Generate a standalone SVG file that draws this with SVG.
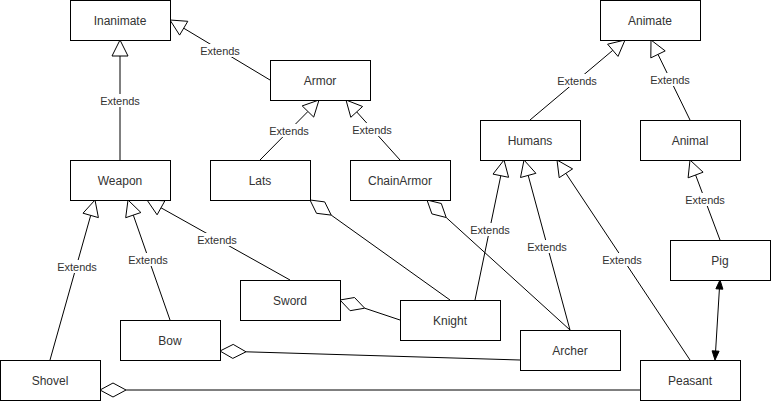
<svg xmlns="http://www.w3.org/2000/svg" width="771" height="417" viewBox="0 0 771 417">
<style>
.box{fill:#fff;stroke:#000;stroke-width:1}
.nt{font-family:"Liberation Sans",Arial,sans-serif;font-size:12px;fill:#333;text-anchor:middle}
.el{font-family:"Liberation Sans",Arial,sans-serif;font-size:11px;fill:#333;text-anchor:middle}
.ln{stroke:#000;stroke-width:1;fill:none}
.tri{fill:#fff;stroke:#000;stroke-width:1}
.dia{fill:#fff;stroke:#000;stroke-width:1}
.blk{fill:#000;stroke:#000;stroke-width:1}
.lb{fill:#fff}
</style>
<rect width="771" height="417" fill="#fff"/>
<g id="connectors">
  <!-- inheritance -->
  <line class="ln" x1="120" y1="160" x2="120" y2="56"/>
  <polygon class="tri" points="120,40 128,56 112,56"/>
  <line class="ln" x1="270" y1="80" x2="183.7" y2="28.2"/>
  <polygon class="tri" points="170,20 187.8,21.3 179.6,35.1"/>
  <line class="ln" x1="260" y1="160" x2="307.9" y2="111.5"/>
  <polygon class="tri" points="319,100 313.7,117.1 302.2,105.9"/>
  <line class="ln" x1="400" y1="160" x2="356.7" y2="111.9"/>
  <polygon class="tri" points="346,100 362.6,106.5 350.8,117.3"/>
  <line class="ln" x1="530" y1="120" x2="612.8" y2="50.3"/>
  <polygon class="tri" points="625,40 618,56.4 607.6,44.2"/>
  <line class="ln" x1="690" y1="120" x2="658" y2="54.4"/>
  <polygon class="tri" points="651,40 665.2,50.9 650.8,57.9"/>
  <line class="ln" x1="720" y1="240" x2="695.6" y2="175"/>
  <polygon class="tri" points="690,160 703.1,172.2 688.1,177.8"/>
  <line class="ln" x1="50" y1="360" x2="90.7" y2="215.4"/>
  <polygon class="tri" points="95,200 98.4,217.6 83,213.2"/>
  <line class="ln" x1="170" y1="320" x2="133.3" y2="215.1"/>
  <polygon class="tri" points="128,200 140.9,212.5 125.7,217.7"/>
  <line class="ln" x1="290" y1="280" x2="161" y2="207.8"/>
  <polygon class="tri" points="147,200 164.9,200.8 157.1,214.8"/>
  <line class="ln" x1="475" y1="300" x2="500.8" y2="175.7"/>
  <polygon class="tri" points="504,160 508.6,177.3 493,174.1"/>
  <line class="ln" x1="570" y1="330" x2="528.2" y2="175.4"/>
  <polygon class="tri" points="524,160 535.9,173.3 520.5,177.5"/>
  <line class="ln" x1="690" y1="360" x2="565.9" y2="173.3"/>
  <polygon class="tri" points="557,160 572.6,168.9 559.2,177.7"/>
  <!-- aggregation -->
  <line class="ln" x1="331.2" y1="215.1" x2="450" y2="300"/>
  <polygon class="dia" points="310,200 324.7,201.9 331.2,215.1 316.5,213.3"/>
  <line class="ln" x1="446.2" y1="217.5" x2="570" y2="330"/>
  <polygon class="dia" points="427,200 441.3,203.5 446.2,217.5 431.9,213.9"/>
  <line class="ln" x1="364.7" y1="308.2" x2="400" y2="320"/>
  <polygon class="dia" points="340,300 354.5,297.5 364.7,308.2 350.1,310.7"/>
  <line class="ln" x1="246" y1="351.8" x2="520" y2="360"/>
  <polygon class="dia" points="220,351 233.2,344.4 246,351.8 232.8,358.4"/>
  <line class="ln" x1="126" y1="390" x2="640" y2="390"/>
  <polygon class="dia" points="100,390 113,383 126,390 113,397"/>
  <!-- association -->
  <line class="ln" x1="719.4" y1="289" x2="715.6" y2="351"/>
  <polygon class="blk" points="720,280 722.9,289.2 715.9,288.8"/>
  <polygon class="blk" points="715,360 719.1,351.2 712.1,350.8"/>
  <!-- labels -->
  <g>
    <rect class="lb" x="200" y="44" width="40" height="13"/><text class="el" x="220" y="55">Extends</text>
    <rect class="lb" x="100" y="94" width="40" height="13"/><text class="el" x="120" y="105">Extends</text>
    <rect class="lb" x="269" y="124" width="40" height="13"/><text class="el" x="289" y="135">Extends</text>
    <rect class="lb" x="352" y="123" width="40" height="13"/><text class="el" x="372" y="134">Extends</text>
    <rect class="lb" x="557" y="74" width="40" height="13"/><text class="el" x="577" y="85">Extends</text>
    <rect class="lb" x="650" y="73" width="40" height="13"/><text class="el" x="670" y="84">Extends</text>
    <rect class="lb" x="685" y="193" width="40" height="13"/><text class="el" x="705" y="204">Extends</text>
    <rect class="lb" x="57" y="260" width="40" height="13"/><text class="el" x="77" y="271">Extends</text>
    <rect class="lb" x="128" y="253" width="40" height="13"/><text class="el" x="148" y="264">Extends</text>
    <rect class="lb" x="197" y="233" width="40" height="13"/><text class="el" x="217" y="244">Extends</text>
    <rect class="lb" x="470" y="223" width="40" height="13"/><text class="el" x="490" y="234">Extends</text>
    <rect class="lb" x="527" y="240" width="40" height="13"/><text class="el" x="547" y="251">Extends</text>
    <rect class="lb" x="602" y="253" width="40" height="13"/><text class="el" x="622" y="264">Extends</text>
  </g>
</g>
<g id="Inanimate"><rect class="box" x="70.5" y="0.5" width="100" height="40"/><text class="nt" x="120" y="25">Inanimate</text></g>
<g id="Armor"><rect class="box" x="270.5" y="60.5" width="100" height="40"/><text class="nt" x="320" y="85">Armor</text></g>
<g id="Weapon"><rect class="box" x="70.5" y="160.5" width="100" height="40"/><text class="nt" x="120" y="185">Weapon</text></g>
<g id="Lats"><rect class="box" x="210.5" y="160.5" width="100" height="40"/><text class="nt" x="260" y="185">Lats</text></g>
<g id="ChainArmor"><rect class="box" x="350.5" y="160.5" width="100" height="40"/><text class="nt" x="400" y="185">ChainArmor</text></g>
<g id="Animate"><rect class="box" x="600.5" y="0.5" width="100" height="40"/><text class="nt" x="650" y="25">Animate</text></g>
<g id="Humans"><rect class="box" x="480.5" y="120.5" width="100" height="40"/><text class="nt" x="530" y="145">Humans</text></g>
<g id="Animal"><rect class="box" x="640.5" y="120.5" width="100" height="40"/><text class="nt" x="690" y="145">Animal</text></g>
<g id="Pig"><rect class="box" x="670.5" y="240.5" width="100" height="40"/><text class="nt" x="720" y="265">Pig</text></g>
<g id="Sword"><rect class="box" x="240.5" y="280.5" width="100" height="40"/><text class="nt" x="290" y="305">Sword</text></g>
<g id="Bow"><rect class="box" x="120.5" y="320.5" width="100" height="40"/><text class="nt" x="170" y="345">Bow</text></g>
<g id="Shovel"><rect class="box" x="0.5" y="360.5" width="100" height="40"/><text class="nt" x="50" y="385">Shovel</text></g>
<g id="Knight"><rect class="box" x="400.5" y="300.5" width="100" height="40"/><text class="nt" x="450" y="325">Knight</text></g>
<g id="Archer"><rect class="box" x="520.5" y="330.5" width="100" height="40"/><text class="nt" x="570" y="355">Archer</text></g>
<g id="Peasant"><rect class="box" x="640.5" y="360.5" width="100" height="40"/><text class="nt" x="690" y="385">Peasant</text></g>
</svg>
